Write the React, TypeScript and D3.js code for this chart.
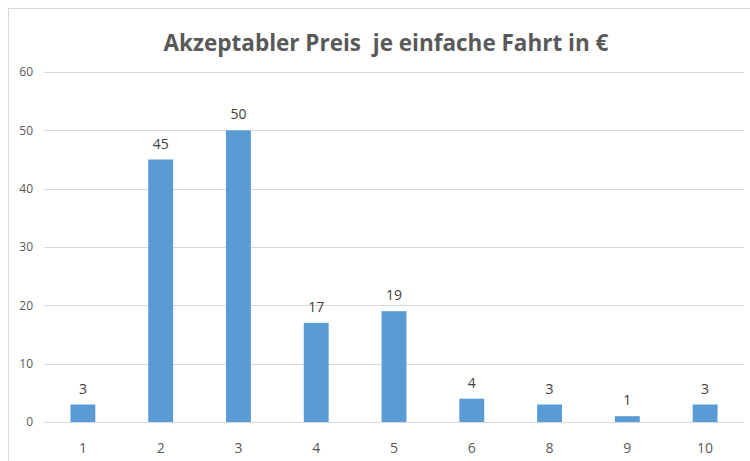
import React from "react";
import * as d3 from "d3";

const categories = ["1", "2", "3", "4", "5", "6", "8", "9", "10"];
const values = [3, 45, 50, 17, 19, 4, 3, 1, 3];
const yTicks = [0, 10, 20, 30, 40, 50, 60];

const W = 750;
const H = 461;
const margin = { left: 44, right: 6, top: 72, bottom: 39 };

const App = () => {
  const x = d3
    .scaleBand()
    .domain(categories)
    .range([margin.left, W - margin.right])
    .paddingInner(0.68)
    .paddingOuter(0.34);
  const y = d3
    .scaleLinear()
    .domain([0, 60])
    .range([H - margin.bottom, margin.top]);

  const font = "Open Sans, sans-serif";

  return (
    <svg width={W} height={H} style={{ position: "absolute", left: 0, top: 0 }}>
      <rect x={0} y={0} width={W} height={H} fill="#fff" />
      <line x1={8} x2={W} y1={8.5} y2={8.5} stroke="#d9d9d9" />
      <line x1={8.5} x2={8.5} y1={8} y2={H} stroke="#d9d9d9" />
      <text
        x={386}
        y={51}
        textAnchor="middle"
        fontFamily={font}
        fontWeight="bold"
        fontSize={22.5}
        fill="#595959"
      >
        Akzeptabler Preis{"\u00a0 "}je einfache Fahrt in €
      </text>
      {yTicks.map(t => (
        <g key={t}>
          <line
            x1={margin.left}
            x2={W - margin.right}
            y1={Math.round(y(t)) + 0.5}
            y2={Math.round(y(t)) + 0.5}
            stroke="#d9d9d9"
          />
          <text
            x={33}
            y={y(t)}
            dy="0.35em"
            textAnchor="end"
            fontFamily={font}
            fontSize={12}
            fill="#595959"
          >
            {t}
          </text>
        </g>
      ))}
      {categories.map((c, i) => (
        <g key={c}>
          <rect
            x={x(c)}
            y={y(values[i])}
            width={x.bandwidth()}
            height={y(0) - y(values[i])}
            fill="#5b9bd5"
          />
          <text
            x={(x(c) as number) + x.bandwidth() / 2}
            y={y(values[i]) - 11}
            textAnchor="middle"
            fontFamily={font}
            fontSize={14}
            fill="#404040"
          >
            {values[i]}
          </text>
          <text
            x={(x(c) as number) + x.bandwidth() / 2}
            y={453}
            textAnchor="middle"
            fontFamily={font}
            fontSize={14}
            fill="#595959"
          >
            {c}
          </text>
        </g>
      ))}
    </svg>
  );
};

export default App;
